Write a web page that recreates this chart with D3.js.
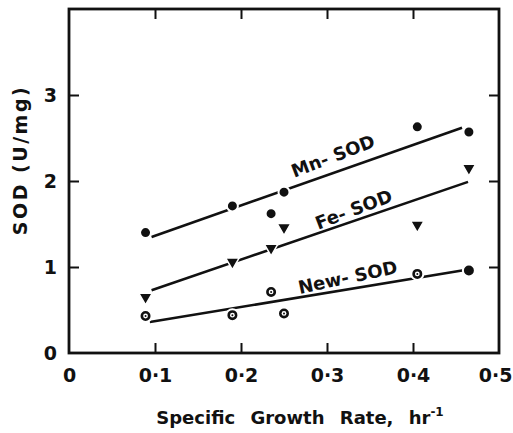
<!DOCTYPE html>
<html lang="en">
  <head>
    <meta charset="UTF-8" />
    <title>SOD vs growth rate</title>
    <script src="https://d3js.org/d3.v7.min.js"></script>
    <style>
      body { margin: 0; background: #fff; }
      text { font-family: "DejaVu Sans", sans-serif; font-weight: bold; fill: #111; }
    </style>
  </head>
  <body>
    <div id="chart"></div>
    <script>
      // growth rate (hr-1) at which each sample was taken
      var growthRate = [0.089, 0.19, 0.235, 0.25, 0.405, 0.465];
      var mnSod = [1.40, 1.71, 1.62, 1.87, 2.63, 2.57];
      var feSod = [0.65, 1.06, 1.22, 1.46, 1.49, 2.15];
      var newSod = [0.43, 0.44, 0.71, 0.46, 0.92, 0.96];
      // fitted lines, start and end points
      var mnFit = [[0.096, 1.35], [0.457, 2.62]];
      var feFit = [[0.096, 0.73], [0.464, 1.99]];
      var newFit = [[0.094, 0.36], [0.464, 0.97]];
      var xTicks = [0, 0.1, 0.2, 0.3, 0.4, 0.5];
      var yTicks = [0, 1, 2, 3];

      var width = 513, height = 433;
      var svg = d3.select("#chart").append("svg")
        .attr("width", width).attr("height", height);

      var x = d3.scaleLinear().domain([0, 0.5]).range([69, 499]);
      var y = d3.scaleLinear().domain([0, 4]).range([353, 9]);

      var fmt = function(d) {
        return d === 0 ? "0" : d3.format(".1f")(d).replace(".", "\u00b7");
      };

      // frame
      svg.append("rect")
        .attr("x", x(0)).attr("y", y(4))
        .attr("width", x(0.5) - x(0)).attr("height", y(0) - y(4))
        .attr("fill", "none").attr("stroke", "#111").attr("stroke-width", 2.8);

      // bottom axis: ticks point inward
      var gx = svg.append("g")
        .attr("transform", "translate(0," + y(0) + ")")
        .call(d3.axisBottom(x).tickValues(xTicks).tickSize(-10).tickPadding(16).tickFormat(fmt));
      gx.select(".domain").remove();
      gx.selectAll(".tick line").attr("stroke", "#111").attr("stroke-width", 2)
        .filter(function(d) { return d === 0 || d === 0.5; }).remove();
      gx.selectAll(".tick text").style("font-size", "19px").attr("fill", "#111")
        .filter(function(d) { return d === 0.5; }).attr("text-anchor", "end").attr("x", 13);

      var gxt = svg.append("g")
        .attr("transform", "translate(0," + y(4) + ")")
        .call(d3.axisTop(x).tickValues([0.1, 0.2, 0.3, 0.4]).tickSize(-10).tickFormat(""));
      gxt.select(".domain").remove();
      gxt.selectAll(".tick line").attr("stroke", "#111").attr("stroke-width", 2);

      var gy = svg.append("g")
        .attr("transform", "translate(" + x(0) + ",0)")
        .call(d3.axisLeft(y).tickValues(yTicks).tickSize(-10).tickPadding(12).tickFormat(d3.format("d")));
      gy.select(".domain").remove();
      gy.selectAll(".tick line").attr("stroke", "#111").attr("stroke-width", 2)
        .filter(function(d) { return d === 0; }).remove();
      gy.selectAll(".tick text").style("font-size", "19px").attr("fill", "#111");

      var gyr = svg.append("g")
        .attr("transform", "translate(" + x(0.5) + ",0)")
        .call(d3.axisRight(y).tickValues([1, 2, 3]).tickSize(-10).tickFormat(""));
      gyr.select(".domain").remove();
      gyr.selectAll(".tick line").attr("stroke", "#111").attr("stroke-width", 2);

      // axis titles
      svg.append("text")
        .attr("x", 300).attr("y", 424)
        .attr("text-anchor", "middle")
        .style("font-size", "18px")
        .style("word-spacing", "9px")
        .text("Specific Growth Rate, hr")
        .append("tspan").attr("dy", -8).style("font-size", "12px").text("-1");

      svg.append("text")
        .attr("transform", "translate(27," + 160 + ") rotate(-90)")
        .attr("text-anchor", "middle")
        .style("font-size", "19px")
        .style("letter-spacing", "2.5px")
        .text("SOD (U/mg)");

      // fitted lines
      var line = d3.line().x(function(d) { return x(d[0]); }).y(function(d) { return y(d[1]); });
      [mnFit, feFit, newFit].forEach(function(f) {
        svg.append("path").attr("d", line(f))
          .attr("fill", "none").attr("stroke", "#111").attr("stroke-width", 2.6);
      });

      // line labels
      var labels = [
        { text: "Mn- SOD", gx: 0.307, gy: 2.29, angle: -21 },
        { text: "Fe- SOD", gx: 0.331, gy: 1.67, angle: -21 },
        { text: "New- SOD", gx: 0.324, gy: 0.88, angle: -12 }
      ];
      labels.forEach(function(l) {
        svg.append("text")
          .attr("transform", "translate(" + x(l.gx) + "," + y(l.gy) + ") rotate(" + l.angle + ")")
          .attr("text-anchor", "middle").attr("dy", "0.35em")
          .style("font-size", "18px")
          .text(l.text);
      });

      // Mn-SOD: filled circles
      svg.append("g").selectAll("circle")
        .data(mnSod).join("circle")
        .attr("cx", function(d, i) { return x(growthRate[i]); })
        .attr("cy", function(d) { return y(d); })
        .attr("r", 5.5).attr("fill", "#111")
        .attr("stroke", "#fff").attr("stroke-width", 2);

      // Fe-SOD: inverted triangles
      var tri = d3.symbol().type(d3.symbolTriangle).size(80);
      svg.append("g").selectAll("path")
        .data(feSod).join("path")
        .attr("d", tri)
        .attr("transform", function(d, i) {
          return "translate(" + x(growthRate[i]) + "," + y(d) + ") rotate(180)";
        })
        .attr("fill", "#111").attr("stroke", "#fff").attr("stroke-width", 1.5)
        .attr("stroke-linejoin", "round");

      // New-SOD: circled dots
      var gn = svg.append("g").selectAll("g")
        .data(newSod).join("g")
        .attr("transform", function(d, i) {
          return "translate(" + x(growthRate[i]) + "," + y(d) + ")";
        });
      gn.append("circle").attr("r", 6).attr("fill", "#111")
        .attr("stroke", "#fff").attr("stroke-width", 2);
      gn.append("circle").attr("r", 2.4)
        .attr("fill", function(d, i) { return i === 5 ? "#111" : "#fff"; });
      gn.append("circle").attr("r", 1).attr("fill", "#111");
    </script>
  </body>
</html>
